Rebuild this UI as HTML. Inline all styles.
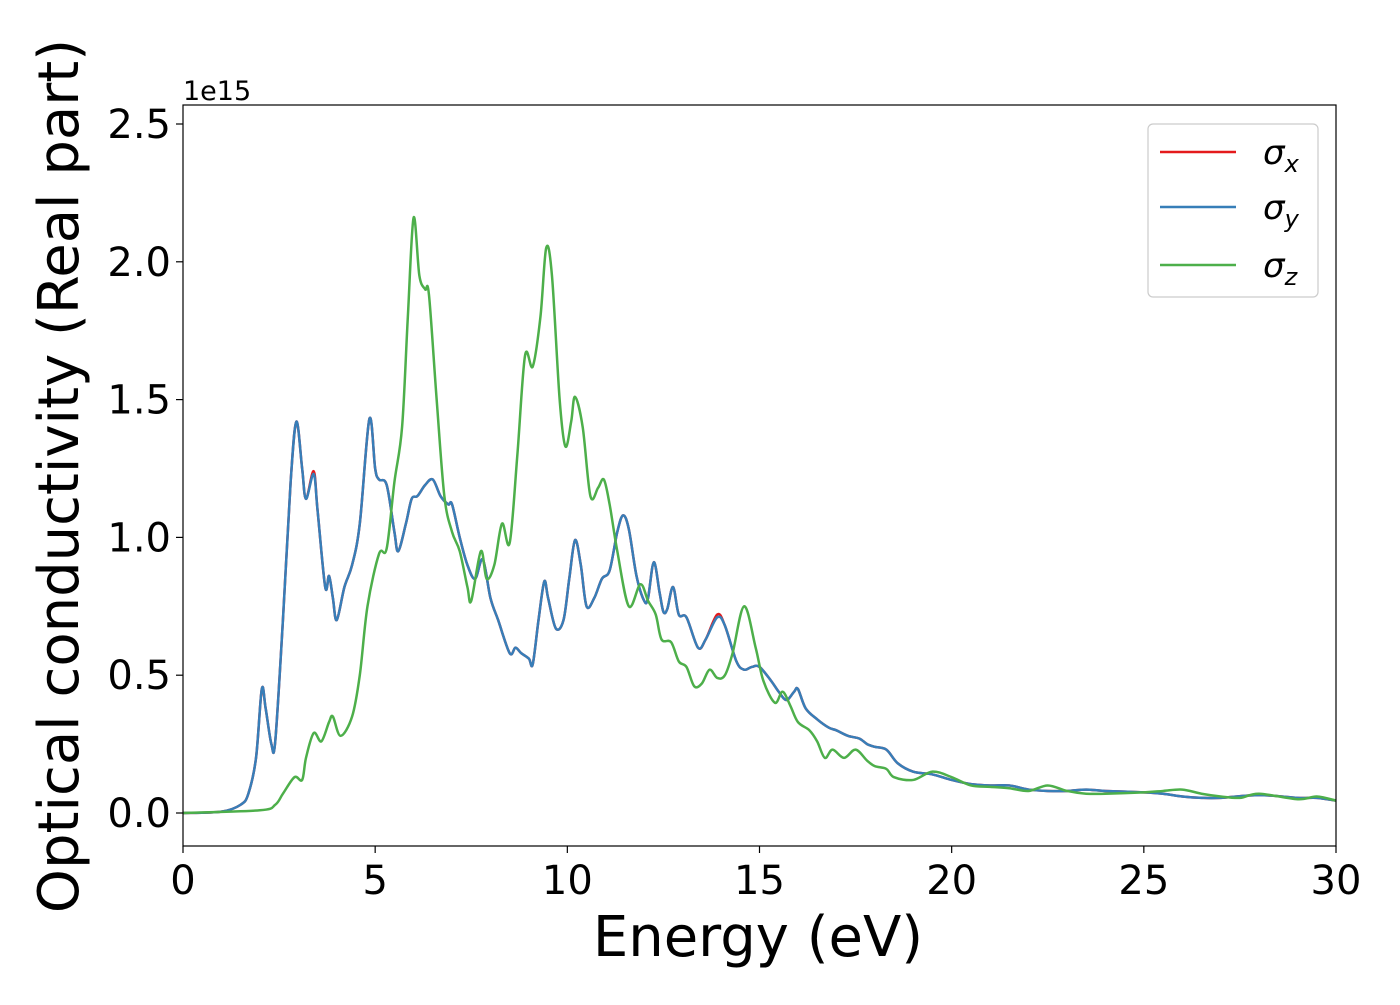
<!DOCTYPE html>
<html><head><meta charset="utf-8"><style>
body{margin:0;background:#fff;}
svg text{font-family:"DejaVu Sans","Liberation Sans",sans-serif;}
</style></head><body>
<svg width="1400" height="1000" viewBox="0 0 1400 1000">
<g id="plot"></g>
</svg>
<script>
const ex=[0,1,1.5,1.7,1.9,2.05,2.15,2.3,2.4,2.6,2.8,2.95,3.1,3.2,3.4,3.5,3.7,3.8,3.9,4.0,4.2,4.4,4.6,4.85,5.0,5.1,5.3,5.5,5.6,5.8,5.95,6.1,6.3,6.5,6.7,6.9,7.0,7.2,7.4,7.6,7.8,8.0,8.2,8.5,8.65,8.8,9.0,9.1,9.25,9.4,9.5,9.7,9.9,10.05,10.2,10.35,10.5,10.7,10.9,11.1,11.3,11.45,11.6,11.8,12.0,12.1,12.25,12.4,12.5,12.6,12.75,12.9,13.1,13.4,13.6,13.9,14.1,14.4,14.6,14.8,15.0,15.3,15.5,15.7,15.9,16.0,16.2,16.5,16.8,17.0,17.3,17.6,17.8,18.0,18.3,18.6,19.0,19.5,20.0,20.5,21,21.5,22,22.5,23,23.5,24,25,25.5,26,26.5,27,28,29,29.5,30];
const sy=[0,0.005,0.03,0.07,0.2,0.45,0.38,0.25,0.26,0.7,1.2,1.42,1.25,1.14,1.23,1.1,0.82,0.86,0.78,0.7,0.82,0.9,1.05,1.43,1.25,1.21,1.19,1.02,0.95,1.05,1.14,1.15,1.19,1.21,1.15,1.12,1.12,1.0,0.9,0.85,0.92,0.78,0.7,0.58,0.6,0.58,0.56,0.54,0.7,0.84,0.78,0.67,0.7,0.85,0.99,0.9,0.75,0.78,0.85,0.88,1.02,1.08,1.03,0.86,0.77,0.78,0.91,0.8,0.73,0.74,0.82,0.72,0.71,0.6,0.63,0.71,0.68,0.55,0.52,0.53,0.53,0.48,0.44,0.41,0.44,0.45,0.38,0.34,0.31,0.3,0.28,0.27,0.25,0.24,0.23,0.18,0.15,0.14,0.12,0.105,0.1,0.1,0.085,0.08,0.08,0.085,0.08,0.075,0.07,0.06,0.055,0.055,0.065,0.055,0.055,0.045];
const sx=sy.map((v,i)=>ex[i]===3.4?1.24:ex[i]===13.9?0.72:v);
const zx=[0,2,2.4,2.6,2.9,3.1,3.2,3.4,3.6,3.8,3.9,4.1,4.4,4.6,4.8,5.1,5.3,5.5,5.7,5.85,6.0,6.15,6.3,6.4,6.6,6.8,7.0,7.2,7.4,7.5,7.75,7.9,8.1,8.3,8.5,8.7,8.9,9.1,9.3,9.45,9.6,9.8,9.95,10.1,10.2,10.4,10.6,10.8,10.95,11.1,11.3,11.6,11.9,12.1,12.3,12.45,12.7,12.9,13.1,13.3,13.5,13.7,13.9,14.1,14.3,14.6,14.9,15.1,15.4,15.6,15.8,16.0,16.3,16.5,16.7,16.9,17.2,17.5,17.8,18.0,18.3,18.5,19.0,19.5,20,20.5,21,21.5,22,22.5,23,23.5,24,25,25.5,26,26.5,27,27.5,28,29,29.5,30];
const sz=[0,0.01,0.03,0.07,0.13,0.12,0.2,0.29,0.26,0.33,0.35,0.28,0.35,0.5,0.75,0.94,0.96,1.2,1.4,1.8,2.16,1.95,1.9,1.88,1.5,1.15,1.02,0.95,0.82,0.77,0.95,0.85,0.9,1.05,0.98,1.3,1.66,1.62,1.8,2.05,1.95,1.5,1.33,1.42,1.51,1.4,1.15,1.18,1.21,1.12,0.95,0.75,0.83,0.77,0.72,0.63,0.62,0.55,0.53,0.46,0.47,0.52,0.49,0.5,0.58,0.75,0.6,0.48,0.4,0.44,0.39,0.33,0.3,0.26,0.2,0.23,0.2,0.23,0.19,0.17,0.16,0.13,0.12,0.15,0.13,0.1,0.095,0.09,0.08,0.1,0.08,0.07,0.07,0.075,0.08,0.085,0.07,0.06,0.055,0.07,0.05,0.06,0.045];
const xTicks=[0,5,10,15,20,25,30];
const yTicks=[0,0.5,1.0,1.5,2.0,2.5];
const L=183,R=1336,T=105,B=846;
const X=v=>L+(v/30)*(R-L);
const Y=v=>813-v*275.6;
const NS="http://www.w3.org/2000/svg";
const g=document.getElementById('plot');
function mk(t,a,p){const e=document.createElementNS(NS,t);for(const k in a)e.setAttribute(k,a[k]);(p||g).appendChild(e);return e;}
function path(xs,ys){let d='';const P=xs.map((x,i)=>[X(x),Y(ys[i])]);d='M'+P[0][0]+','+P[0][1];
for(let i=0;i<P.length-1;i++){const p0=P[Math.max(0,i-1)],p1=P[i],p2=P[i+1],p3=P[Math.min(P.length-1,i+2)];
d+=' C'+(p1[0]+(p2[0]-p0[0])/6)+','+(p1[1]+(p2[1]-p0[1])/6)+' '+(p2[0]-(p3[0]-p1[0])/6)+','+(p2[1]-(p3[1]-p1[1])/6)+' '+p2[0]+','+p2[1];}return d;}
const defs=mk('clipPath',{id:'cp'});mk('rect',{x:L,y:T,width:R-L,height:B-T},defs);
let e;
e=mk('path',{d:path(ex,sx),fill:'none',stroke:'#e41a1c','stroke-width':2.5,'clip-path':'url(#cp)'});

e=mk('path',{d:path(ex,sy),fill:'none',stroke:'#377eb8','stroke-width':2.5,'clip-path':'url(#cp)'});

e=mk('path',{d:path(zx,sz),fill:'none',stroke:'#4daf4a','stroke-width':2.5,'clip-path':'url(#cp)'});

e=mk('rect',{x:L,y:T,width:R-L,height:B-T,fill:'none',stroke:'#000','stroke-width':1.2});

xTicks.forEach(v=>{mk('line',{x1:X(v),x2:X(v),y1:B,y2:B+7,stroke:'#000','stroke-width':1.2});
const t=mk('text',{x:X(v),y:B+48,'font-size':40,'text-anchor':'middle'});t.textContent=v;
});
yTicks.forEach(v=>{mk('line',{x1:L-7,x2:L,y1:Y(v),y2:Y(v),stroke:'#000','stroke-width':1.2});
const t=mk('text',{x:L-12,y:Y(v)+14,'font-size':40,'text-anchor':'end'});t.textContent=v.toFixed(1);
});
</script>
<svg style="position:absolute;left:0;top:0" width="1400" height="1000">
<text x="183" y="100" font-size="27" style="font-family:'DejaVu Sans',sans-serif">1e15</text>
<text x="758" y="956" font-size="56" text-anchor="middle" style="font-family:'DejaVu Sans',sans-serif">Energy (eV)</text>
<text transform="translate(78,476) rotate(-90)" font-size="56" text-anchor="middle" style="font-family:'DejaVu Sans',sans-serif">Optical conductivity (Real part)</text>
<g style="font-family:'DejaVu Sans',sans-serif">
<rect x="1148" y="124" width="170" height="173" rx="5" fill="#fff" stroke="#ccc" stroke-width="1.2"/>
<line x1="1160" x2="1236" y1="152" y2="152" stroke="#e41a1c" stroke-width="2.5"/>
<text x="1263" y="164" font-size="34" font-style="italic">σ<tspan font-size="24" dy="8">x</tspan></text>
<line x1="1160" x2="1236" y1="207" y2="207" stroke="#377eb8" stroke-width="2.5"/>
<text x="1263" y="219" font-size="34" font-style="italic">σ<tspan font-size="24" dy="8">y</tspan></text>
<line x1="1160" x2="1236" y1="265" y2="265" stroke="#4daf4a" stroke-width="2.5"/>
<text x="1263" y="277" font-size="34" font-style="italic">σ<tspan font-size="24" dy="8">z</tspan></text>
</g>
</svg>
</body></html>
